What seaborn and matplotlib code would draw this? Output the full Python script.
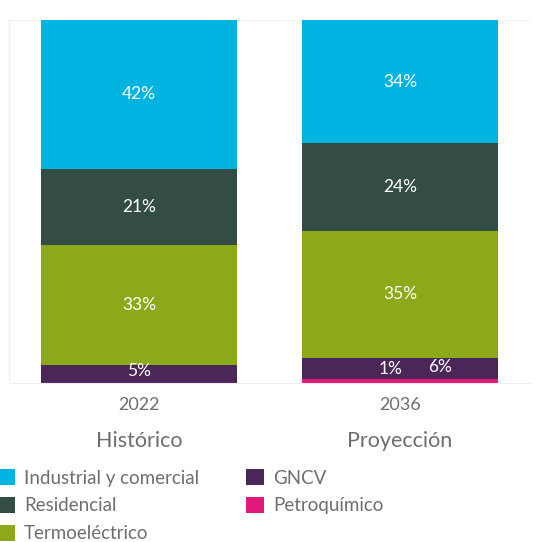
import matplotlib
matplotlib.use("Agg")
import matplotlib.pyplot as plt
import matplotlib.transforms as mtransforms
from matplotlib.patches import Patch
import numpy as np
import pandas as pd
import seaborn as sns

# Gas demand shares by sector (%)
years = ["2022", "2036"]
periods = ["Histórico", "Proyección"]
sectors = ["Industrial y comercial", "Residencial", "Termoeléctrico", "GNCV", "Petroquímico"]
industrial = [42, 34]
residencial = [21, 24]
termoelectrico = [33, 35]
gncv = [5, 6]
petroquimico = [0, 1]

colors = {
    "Industrial y comercial": "#00B4E1",
    "Residencial": "#344D44",
    "Termoeléctrico": "#8CA919",
    "GNCV": "#4A2659",
    "Petroquímico": "#E0197B",
}

sns.set_theme(style="white")
plt.rcParams["font.family"] = ["Lato", "DejaVu Sans"]

fig = plt.figure(figsize=(5.45, 5.42), dpi=100)
ax = fig.add_axes([0.0156, 0.2934, 0.9578, 0.6696])

# stack from the bottom: petroquímico, GNCV, termo, residencial, industrial
stack_order = ["Petroquímico", "GNCV", "Termoeléctrico", "Residencial", "Industrial y comercial"]
values = {
    "Industrial y comercial": np.array(industrial),
    "Residencial": np.array(residencial),
    "Termoeléctrico": np.array(termoelectrico),
    "GNCV": np.array(gncv),
    "Petroquímico": np.array(petroquimico),
}
tops = {}
running = np.zeros(len(years))
for s in stack_order:
    running = running + values[s]
    tops[s] = running.copy()

# draw cumulative bars tallest first so each layer covers the one below
for s in reversed(stack_order):
    df = pd.DataFrame({"year": years, "top": tops[s]})
    sns.barplot(data=df, x="year", y="top", color=colors[s], width=0.75,
                saturation=1, ax=ax, linewidth=0)

ax.set_xlim(-0.5, 1.5)
ax.set_ylim(0, 100)
ax.set_xlabel("")
ax.set_ylabel("")
ax.set_yticks([])
for side in ["top", "right"]:
    ax.spines[side].set_visible(False)
for side in ["left", "bottom"]:
    ax.spines[side].set_color("#EEEEEE")
    ax.spines[side].set_linewidth(0.8)
ax.axhline(100, color="#F2F2F2", lw=0.8, zorder=0)

ax.tick_params(axis="x", length=0, pad=10, labelsize=13, labelcolor="#6E6E6E")

# segment labels (centred on the visible part of each segment)
label_kw = dict(color="white", fontsize=12.5, ha="center", va="center")
for i in range(len(years)):
    for s in ["Industrial y comercial", "Residencial", "Termoeléctrico"]:
        top = min(tops[s][i], 100)
        bottom = tops[s][i] - values[s][i]
        ax.text(i, (top + bottom) / 2, f"{values[s][i]}%", **label_kw)

ax.text(0, tops["GNCV"][0] - gncv[0] / 2 + 0.8, f"{gncv[0]}%", **label_kw)
ax.text(1.153, tops["GNCV"][1] - gncv[1] / 2 + 0.5, f"{gncv[1]}%", **label_kw)
ax.text(0.965, tops["GNCV"][1] - gncv[1] / 2 - 0.2, f"{petroquimico[1]}%", **label_kw)

# period names under the year ticks
trans = mtransforms.blended_transform_factory(ax.transData, fig.transFigure)
for i, p in enumerate(periods):
    fig.text(i, 1 - 441 / 542, p, transform=trans, ha="center", va="center",
             fontsize=15.5, color="#6E6E6E")

handles = [Patch(facecolor=colors[s], edgecolor="none") for s in sectors]
fig.legend(handles, sectors, loc="upper left", bbox_to_anchor=(-0.006, 1 - 469 / 542),
           ncol=2, frameon=False, fontsize=13.5, labelcolor="#6E6E6E",
           handlelength=0.95, handleheight=0.95, handletextpad=0.5,
           labelspacing=0.55, columnspacing=2.5, borderaxespad=0, borderpad=0)

fig.savefig("out.png", dpi=100)
